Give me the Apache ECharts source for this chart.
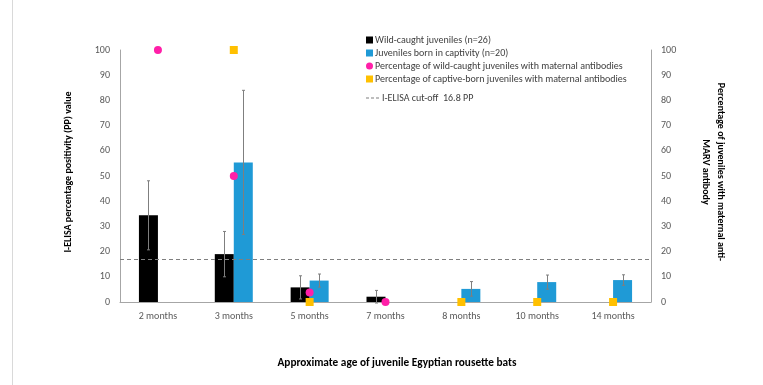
<!DOCTYPE html>
<html><head><meta charset="utf-8">
<script src="https://cdn.jsdelivr.net/npm/echarts@6/dist/echarts.min.js"></script>
<style>html,body{margin:0;padding:0;background:#fff}#c{width:763px;height:385px}</style>
</head><body><div id="c"></div>
<script>
const categories = ['2 months','3 months','5 months','7 months','8 months','10 months','14 months'];
const wildMean = [34.4, 19.0, 5.8, 2.1, null, null, null];
const wildErr  = [13.7, 9.0, 4.6, 2.5, null, null, null];
const captiveMean = [null, 55.4, 8.5, null, 5.2, 7.9, 8.7];
const captiveErr  = [null, 28.6, 2.6, null, 2.9, 2.8, 2.1];
const wildPct = [100, 50, 3.8, 0, null, null, null];
const captivePct = [null, 100, 0, null, 0, 0, 0];
const cutoff = 16.8;
const yTicks = [0, 100, 10];

const BW = 19;
const chart = echarts.init(document.getElementById('c'));
const font = 'Carlito, Calibri, Lato, sans-serif';

function errSeries(means, errs, side) {
  const data = means.map((m, i) => m == null ? null : [i, m - errs[i], m + errs[i]]).filter(d => d);
  return {
    type: 'custom', yAxisIndex: 0, z: 5, silent: true,
    data: data,
    renderItem: function (params, api) {
      const i = api.value(0);
      const lo = api.coord([i, api.value(1)]);
      const hi = api.coord([i, api.value(2)]);
      const x = Math.round(lo[0] + side * BW / 2) + 0.5;
      const cap = 1.5;
      const st = { stroke: '#7f7f7f', lineWidth: 1 };
      return { type: 'group', children: [
        { type: 'line', shape: { x1: x, y1: lo[1], x2: x, y2: hi[1] }, style: st },
        { type: 'line', shape: { x1: x - cap, y1: lo[1], x2: x + cap, y2: lo[1] }, style: st },
        { type: 'line', shape: { x1: x - cap, y1: hi[1], x2: x + cap, y2: hi[1] }, style: st }
      ]};
    }
  };
}

const dashIcon = 'path://M0,0 L3,0 L3,1 L0,1 Z M5,0 L8,0 L8,1 L5,1 Z M10,0 L13,0 L13,1 L10,1 Z';
const legendText = { fontSize: 10, color: '#404040', fontFamily: font };

chart.setOption({
  animation: false,
  textStyle: { fontFamily: font },
  grid: { left: 120, right: 112, top: 50, bottom: 83 },
  legend: [{
    orient: 'vertical', left: 361, top: 30, itemWidth: 7, itemHeight: 7, itemGap: 3,
    textStyle: Object.assign({ padding: [0, 0, 0, -3] }, legendText),
    data: [
      { name: 'Wild-caught juveniles (n=26)', icon: 'rect' },
      { name: 'Juveniles born in captivity (n=20)', icon: 'rect' },
      { name: 'Percentage of wild-caught juveniles with maternal antibodies', icon: 'circle' },
      { name: 'Percentage of captive-born juveniles with maternal antibodies', icon: 'rect' }
    ]
  }, {
    orient: 'vertical', left: 361, top: 88, itemWidth: 13, itemHeight: 7,
    textStyle: Object.assign({ padding: [0, 0, 0, -2] }, legendText),
    data: [{ name: 'I-ELISA cut-off  16.8 PP', icon: dashIcon, itemStyle: { color: '#7f7f7f' } }]
  }],
  xAxis: {
    type: 'category', data: categories,
    axisLine: { lineStyle: { color: '#a6a6a6' } },
    axisTick: { show: false },
    axisLabel: { color: '#595959', fontSize: 10, margin: 9 }
  },
  yAxis: [
    { type: 'value', min: yTicks[0], max: yTicks[1], interval: yTicks[2],
      axisLine: { show: true, lineStyle: { color: '#a6a6a6' } }, axisTick: { show: false },
      splitLine: { show: false }, axisLabel: { color: '#595959', fontSize: 10, margin: 10 } },
    { type: 'value', min: yTicks[0], max: yTicks[1], interval: yTicks[2], position: 'right',
      axisLine: { show: true, lineStyle: { color: '#a6a6a6' } }, axisTick: { show: false },
      splitLine: { show: false }, axisLabel: { color: '#595959', fontSize: 10, margin: 10 } }
  ],
  graphic: [
    { type: 'line', shape: { x1: 12.5, y1: 0, x2: 12.5, y2: 385 }, style: { stroke: '#d9d9d9', lineWidth: 1 } },
    { type: 'text', x: 68, y: 172, rotation: Math.PI / 2, style: { text: 'I-ELISA percentage positivity (PP) value', fill: '#000', align: 'center', verticalAlign: 'middle', font: 'bold 10px ' + font } },
    { type: 'text', x: 713, y: 172, rotation: -Math.PI / 2, style: { text: 'Percentage of juveniles with maternal anti-\nMARV antibody', fill: '#000', align: 'center', verticalAlign: 'middle', lineHeight: 15, font: 'bold 10px ' + font } },
    { type: 'text', x: 397, y: 363, style: { text: 'Approximate age of juvenile Egyptian rousette bats', fill: '#000', align: 'center', verticalAlign: 'middle', font: 'bold 11.3px ' + font } }
  ],
  series: [
    { name: 'Wild-caught juveniles (n=26)', type: 'bar', data: wildMean, barWidth: BW, barGap: '0%', itemStyle: { color: '#000000' } },
    { name: 'Juveniles born in captivity (n=20)', type: 'bar', data: captiveMean, barWidth: BW, barGap: '0%', itemStyle: { color: '#1f9ad6' } },
    errSeries(wildMean, wildErr, -1),
    errSeries(captiveMean, captiveErr, 1),
    { name: 'Percentage of wild-caught juveniles with maternal antibodies', type: 'scatter', yAxisIndex: 1, data: wildPct, symbol: 'circle', symbolSize: 8, itemStyle: { color: '#ff1fa8', opacity: 1 }, z: 10 },
    { name: 'Percentage of captive-born juveniles with maternal antibodies', type: 'scatter', yAxisIndex: 1, data: captivePct, symbol: 'rect', symbolSize: 8, itemStyle: { color: '#ffc000', opacity: 1 }, z: 10 },
    { name: 'I-ELISA cut-off  16.8 PP', type: 'line', data: [], itemStyle: { color: '#7f7f7f' }, lineStyle: { color: '#7f7f7f', type: 'dashed' },
      markLine: { silent: true, symbol: 'none', label: { show: false }, lineStyle: { color: '#7f7f7f', type: [4, 3], width: 1 }, data: [{ yAxis: cutoff }] } }
  ]
});
</script></body></html>
